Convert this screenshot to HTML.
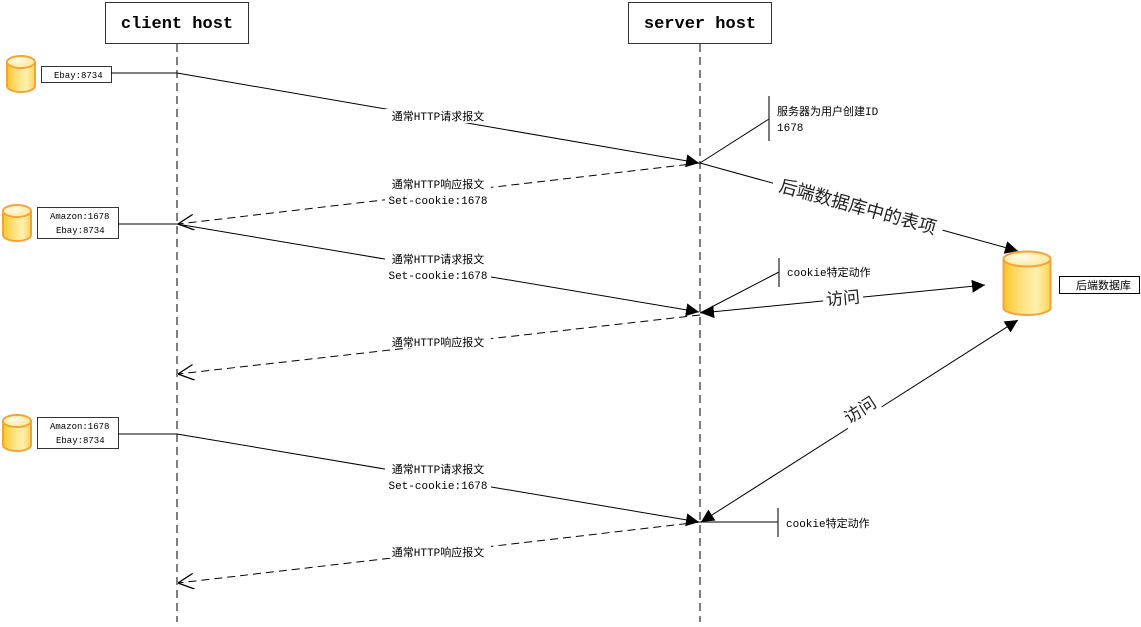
<!DOCTYPE html>
<html><head><meta charset="utf-8"><style>
html,body{margin:0;padding:0;background:#fff;width:1141px;height:627px;overflow:hidden}
text{font-family:"Liberation Mono","Noto Sans CJK SC",monospace;font-size:11px;fill:#000}
.lbl{font-family:"Liberation Sans","Noto Sans CJK SC",sans-serif}
</style></head><body>
<svg width="1141" height="627" viewBox="0 0 1141 627" xmlns="http://www.w3.org/2000/svg">
<defs>
<linearGradient id="cg" x1="0" x2="1" y1="0" y2="0">
<stop offset="0" stop-color="#f9c62a"/><stop offset="0.35" stop-color="#fde07a"/><stop offset="0.7" stop-color="#fff0b0"/><stop offset="1" stop-color="#fbd255"/></linearGradient>
<radialGradient id="tg" cx="0.4" cy="0.4" r="0.7"><stop offset="0" stop-color="#fffbe8"/><stop offset="1" stop-color="#fde58e"/></radialGradient>
<marker id="fa" viewBox="0 0 10 10" refX="10" refY="5" markerWidth="13" markerHeight="13" markerUnits="userSpaceOnUse" orient="auto-start-reverse"><path d="M0,0L10,5L0,10z" fill="#000"/></marker>
<marker id="oa" viewBox="0 0 10 10" refX="10" refY="5" markerWidth="16" markerHeight="16" markerUnits="userSpaceOnUse" orient="auto"><path d="M0,0L10,5L0,10" fill="none" stroke="#000" stroke-width="0.8"/></marker>
<g id="cyl">
<path d="M0,8 L0,32 A14,6 0 0 0 28,32 L28,8" fill="url(#cg)" stroke="#f4a23a" stroke-width="2"/>
<ellipse cx="14" cy="8" rx="14" ry="6" fill="url(#tg)" stroke="#f4a23a" stroke-width="2"/>
</g>
</defs>
<rect x="105.5" y="2.5" width="143" height="41" fill="#fff" stroke="#333"/>
<text x="177" y="28" text-anchor="middle" style="font-size:17px;font-weight:bold">client host</text>
<rect x="628.5" y="2.5" width="143" height="41" fill="#fff" stroke="#333"/>
<text x="700" y="28" text-anchor="middle" style="font-size:17px;font-weight:bold">server host</text>
<line x1="177" y1="44" x2="177" y2="622" stroke="#555" stroke-width="1.5" stroke-dasharray="8,5"/>
<line x1="700" y1="44" x2="700" y2="622" stroke="#555" stroke-width="1.5" stroke-dasharray="8,5"/>
<use href="#cyl" transform="translate(7,54)"/>
<use href="#cyl" transform="translate(3,203)"/>
<use href="#cyl" transform="translate(3,413)"/>
<rect x="41.5" y="66.5" width="70" height="16" fill="#fff" stroke="#333"/>
<text x="54" y="78" style="font-size:9px">Ebay:8734</text>
<line x1="111" y1="73" x2="177" y2="73" stroke="#000"/>
<rect x="37.5" y="207.5" width="81" height="31" fill="#fff" stroke="#333"/>
<text x="50" y="219" style="font-size:9px">Amazon:1678</text>
<text x="56" y="233" style="font-size:9px">Ebay:8734</text>
<line x1="118" y1="224" x2="177" y2="224" stroke="#000"/>
<rect x="37.5" y="417.5" width="81" height="31" fill="#fff" stroke="#333"/>
<text x="50" y="429" style="font-size:9px">Amazon:1678</text>
<text x="56" y="443" style="font-size:9px">Ebay:8734</text>
<line x1="118" y1="434" x2="177" y2="434" stroke="#000"/>
<line x1="177" y1="73" x2="699" y2="163" stroke="#000" marker-end="url(#fa)"/>
<line x1="700" y1="163" x2="178" y2="224" stroke="#000" stroke-dasharray="8,5" marker-end="url(#oa)"/>
<line x1="177" y1="224" x2="699" y2="312" stroke="#000" marker-end="url(#fa)"/>
<line x1="700" y1="315" x2="178" y2="374" stroke="#000" stroke-dasharray="8,5" marker-end="url(#oa)"/>
<line x1="177" y1="434" x2="699" y2="522" stroke="#000" marker-end="url(#fa)"/>
<line x1="700" y1="522" x2="178" y2="583" stroke="#000" stroke-dasharray="8,5" marker-end="url(#oa)"/>
<g>
<rect x="385" y="109" width="106" height="14" fill="#fff"/>
<text x="438" y="120" text-anchor="middle">通常HTTP请求报文</text>
<rect x="385" y="176" width="106" height="30" fill="#fff"/>
<text x="438" y="188" text-anchor="middle">通常HTTP响应报文</text>
<text x="438" y="204" text-anchor="middle">Set-cookie:1678</text>
<rect x="385" y="251" width="106" height="30" fill="#fff"/>
<text x="438" y="263" text-anchor="middle">通常HTTP请求报文</text>
<text x="438" y="279" text-anchor="middle">Set-cookie:1678</text>
<rect x="385" y="334" width="106" height="14" fill="#fff"/>
<text x="438" y="346" text-anchor="middle">通常HTTP响应报文</text>
<rect x="385" y="461" width="106" height="30" fill="#fff"/>
<text x="438" y="473" text-anchor="middle">通常HTTP请求报文</text>
<text x="438" y="489" text-anchor="middle">Set-cookie:1678</text>
<rect x="385" y="544" width="106" height="14" fill="#fff"/>
<text x="438" y="556" text-anchor="middle">通常HTTP响应报文</text>
</g>
<line x1="700" y1="163" x2="769" y2="119" stroke="#000"/>
<line x1="769" y1="96" x2="769" y2="141" stroke="#333" stroke-width="1.3"/>
<text x="777" y="115">服务器为用户创建ID</text>
<text x="777" y="131">1678</text>
<line x1="700" y1="313" x2="779" y2="272" stroke="#000"/>
<line x1="779" y1="258" x2="779" y2="287" stroke="#333" stroke-width="1.3"/>
<text x="787" y="276">cookie特定动作</text>
<line x1="700" y1="522" x2="778" y2="522" stroke="#333" stroke-width="1.3"/>
<line x1="778" y1="508" x2="778" y2="537" stroke="#333" stroke-width="1.3"/>
<text x="786" y="527">cookie特定动作</text>
<line x1="700" y1="163" x2="1018" y2="251" stroke="#000" marker-end="url(#fa)"/>
<g transform="translate(858,206) rotate(15.5)"><rect x="-88" y="-11" width="176" height="22" fill="#fff"/><text class="lbl" x="0" y="7" text-anchor="middle" style="font-size:18px;fill:#222">后端数据库中的表项</text></g>
<line x1="701" y1="313" x2="985" y2="285" stroke="#000" marker-start="url(#fa)" marker-end="url(#fa)"/>
<g transform="translate(843,298) rotate(-5)"><rect x="-20" y="-10" width="40" height="20" fill="#fff"/><text class="lbl" x="0" y="6" text-anchor="middle" style="font-size:17px;fill:#222">访问</text></g>
<line x1="701" y1="522" x2="1018" y2="320" stroke="#000" marker-start="url(#fa)" marker-end="url(#fa)"/>
<g transform="translate(860,410) rotate(-32.5)"><rect x="-20" y="-10" width="40" height="20" fill="#fff"/><text class="lbl" x="0" y="6" text-anchor="middle" style="font-size:17px;fill:#222">访问</text></g>
<path d="M1003.5,259 L1003.5,309 A24,7.5 0 0 0 1050.5,309 L1050.5,259" fill="url(#cg)" stroke="#f4a23a" stroke-width="2"/>
<ellipse cx="1027" cy="259" rx="23.5" ry="7.5" fill="url(#tg)" stroke="#f4a23a" stroke-width="2"/>
<rect x="1059.5" y="276.5" width="80" height="17" fill="#fff" stroke="#000"/>
<text class="lbl" x="1076" y="289" style="font-size:11px">后端数据库</text>
</svg>
</body></html>
